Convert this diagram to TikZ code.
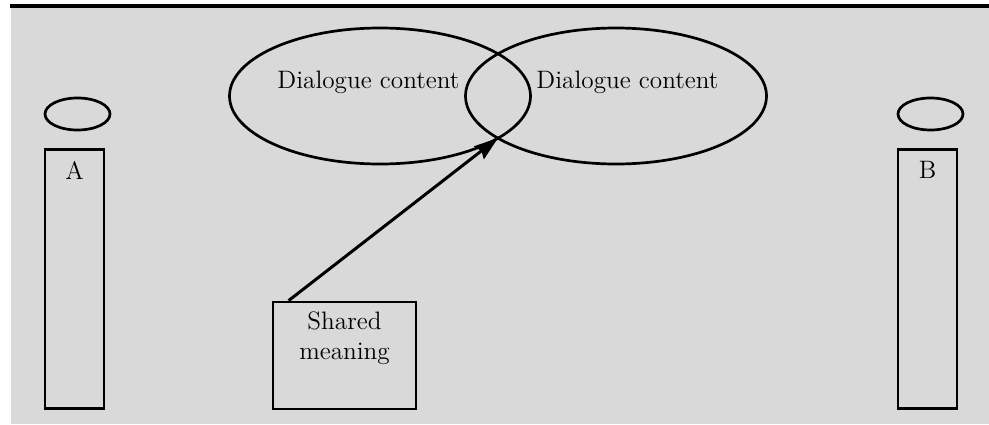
\documentclass[tikz,border=0pt]{standalone}
\usetikzlibrary{shapes.geometric}
\usetikzlibrary{arrows.meta}
\usetikzlibrary{calc}
\usepackage{xcolor}
\definecolor{panelgray}{HTML}{D9D9D9}

\begin{document}
\begin{tikzpicture}[x=0.5pt,y=-0.5pt,
  every node/.style={font=\fontsize{12.6}{15}\selectfont},
  oval/.style={draw,ellipse,line width=1.35pt,inner sep=0pt},
  pillar/.style={draw,rectangle,line width=1.4pt,inner sep=0pt,minimum width=29.5pt,minimum height=129.5pt},
  lbl/.style={inner sep=0pt}]
\useasboundingbox (0,0) rectangle (989,424);
% panel and top rule
\fill[panelgray] (11,7.5) rectangle (989,424);
\draw[line width=1.6pt] (10,6)--(989,6);
% the two speakers
\node[pillar] (colA) at (74.5,279) {};
\node[lbl] at ([yshift=-11pt]colA.north) {A};
\node[oval, minimum width=32.5pt, minimum height=16pt] (headA) at (77.5,114) {};
\node[pillar] (colB) at (927.5,279) {};
\node[lbl] at ([yshift=-11pt]colB.north) {B};
\node[oval, minimum width=32.5pt, minimum height=16pt] (headB) at (930.5,114) {};
% dialogue contents
\node[oval, minimum width=150.5pt, minimum height=68pt] (dlgL) at (380,96) {};
\node[oval, minimum width=150.5pt, minimum height=68pt] (dlgR) at (616,96) {};
\node[lbl] at ($(dlgL.center)+(-11.5,-14)$) {Dialogue content};
\node[lbl] at ($(dlgR.center)+(11.5,-14)$) {Dialogue content};
\coordinate (meet) at (498,138);
% shared meaning
\node[draw, line width=1.4pt, inner sep=0pt, minimum width=71.5pt, minimum height=53.5pt] (share) at (344.5,355.5) {};
\node[lbl, anchor=north, align=center] at ([yshift=-5.5pt]share.north) {Shared\\meaning};
\draw[line width=1.5pt, -{Stealth[length=12pt,width=8pt,inset=1.5pt]}] ([xshift=8.5pt]share.north west) -- (meet);
\end{tikzpicture}
\end{document}
